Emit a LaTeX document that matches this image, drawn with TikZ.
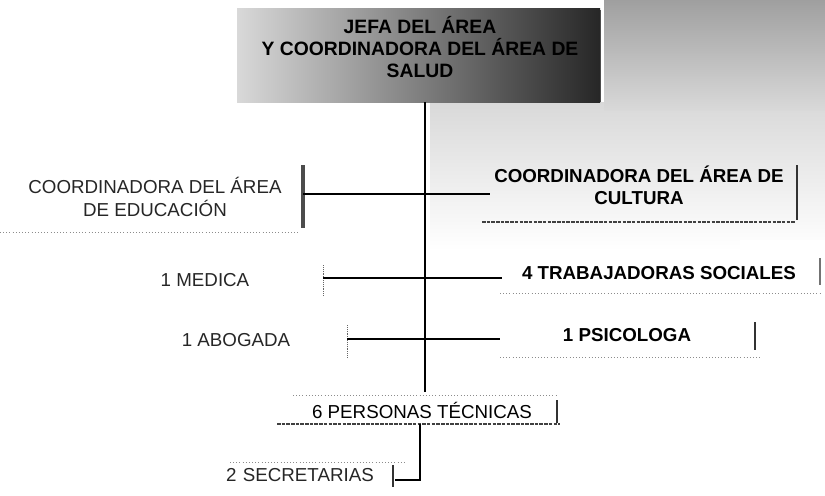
\documentclass[tikz,border=0pt]{standalone}
\usepackage{fontspec}
\setmainfont{Liberation Sans}
\begin{document}
\begin{tikzpicture}[x=0.03cm,y=-0.03cm,
  lbl/.style={font=\fontsize{16}{19}\selectfont, align=center, inner sep=0pt, text=black!85},
  blbl/.style={font=\bfseries\fontsize{16}{19}\selectfont, align=center, inner sep=0pt},
  conn/.style={line width=1.2pt, black},
  brk/.style={line width=2.2pt, black!80},
  thinbrk/.style={line width=0.6pt, black!60, densely dotted},
  dots/.style={line width=0.7pt, black!45, dotted},
  heavy/.style={line width=1.6pt, black!75, dash pattern=on 3pt off 1pt}]
\useasboundingbox (0,0) rectangle (825,495);
% backgrounds (photocopy shading)
\shade[top color=gray!30, bottom color=white] (430,102) rectangle (825,250);
\shade[top color=white, middle color=gray!18, bottom color=white] (740,240) rectangle (825,370);
\shade[top color=gray!75, bottom color=gray!30] (604,0) rectangle (825,110);
\shade[left color=gray!30, right color=black!85] (237,8) rectangle (600,102);
\draw[white, line width=2pt] (602,0) -- (602,102);
\draw[black!70, line width=0.8pt] (600,10) -- (600,102);
% title
\node[blbl, font=\bfseries\fontsize{16.5}{18.5}\selectfont] (jefa) at (420,47)
  {JEFA DEL ÁREA\\Y COORDINADORA DEL ÁREA DE\\SALUD};
\coordinate (jefaS) at (425,102);
% culture
\node[blbl] (cult) at (639,185) {COORDINADORA DEL ÁREA DE\\CULTURA};
\draw[heavy] (482,222) -- (795,222);
\draw[brk] (797,165) -- (797,220);
\coordinate (cultW) at (490,194);
% education
\node[lbl] (edu) at (155,197) {COORDINADORA DEL ÁREA\\DE EDUCACIÓN};
\draw[brk, black!70, line width=2.6pt] (303,165) -- (303,228);
\coordinate (eduB) at (303,194);
\draw[dots] (0,232) -- (300,232);
% medica / trabajadoras
\node[lbl] (med) at (205,280) {1 MEDICA};
\draw[thinbrk] (323,265) -- (323,296);
\coordinate (medB) at (323,278);
\node[blbl] (trab) at (659,273) {4 TRABAJADORAS SOCIALES};
\coordinate (trabW) at (502,278);
\draw[line width=0.9pt, black!55] (820,258) -- (820,285);
\draw[dots] (500,293) -- (820,293);
% abogada / psicologa
\node[lbl] (abo) at (236,340) {1 ABOGADA};
\draw[thinbrk] (347,325) -- (347,357);
\coordinate (aboB) at (347,339);
\node[blbl] (psi) at (627,335) {1 PSICOLOGA};
\coordinate (psiW) at (500,339);
\draw[brk] (755,322) -- (755,350);
\draw[dots] (500,357) -- (760,357);
% personas tecnicas
\node[lbl, text=black] (per) at (422,410) {6 PERSONAS TÉCNICAS};
\draw[dots] (293,395) -- (557,395);
\draw[heavy] (277,424) -- (560,424);
\draw[brk] (557,400) -- (557,423);
\coordinate (perN) at (425,392);
\coordinate (perS) at (420,424);
% secretarias
\node[lbl] (sec) at (300,475) {2\,\,SECRETARIAS};
\draw[dots] (230,462) -- (407,462);
\draw[line width=1pt, black!80] (393,465) -- (393,487);
\coordinate (secB) at (395,480);
% connectors
\draw[conn] (jefaS) -- (perN);
\draw[conn] (eduB) -- (cultW);
\draw[conn] (medB) -- (trabW);
\draw[conn] (aboB) -- (psiW);
\draw[conn] (perS) -- (perS |- secB) -- (secB);
\end{tikzpicture}
\end{document}
